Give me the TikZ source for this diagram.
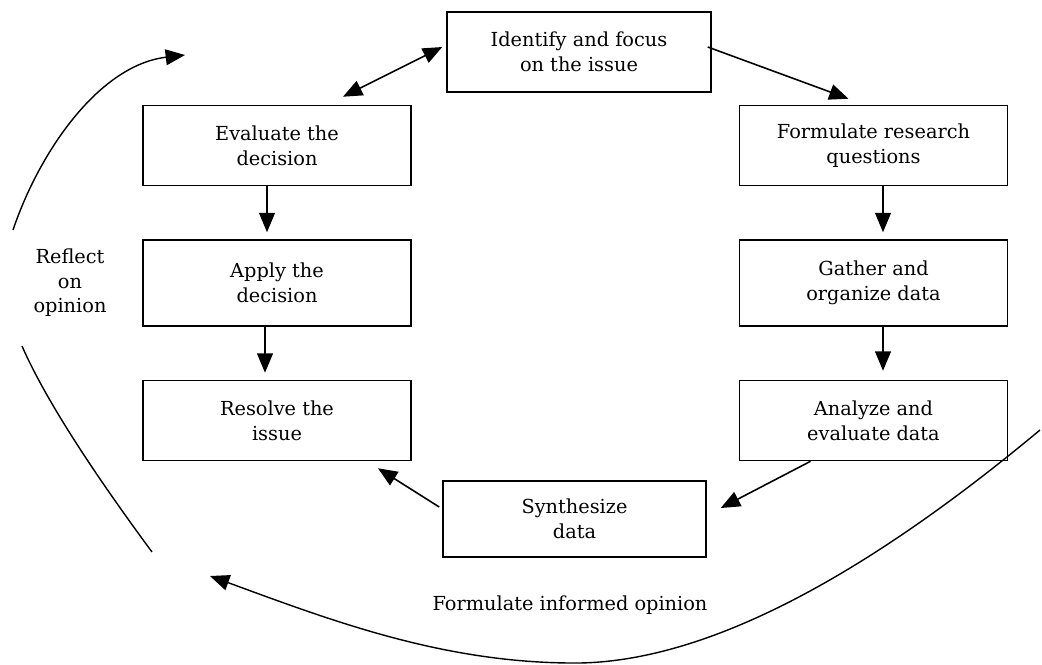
\documentclass[tikz,border=0pt]{standalone}
\usepackage{fontspec}
\setmainfont{DejaVu Serif}
\usetikzlibrary{arrows.meta, positioning}

\begin{document}
\begin{tikzpicture}[
  x=0.02cm, y=-0.02cm,
  every node/.style={font=\fontsize{11}{14}\selectfont},
  stepbox/.style={rectangle, draw=black, line width=0.9pt, minimum width=5.36cm, minimum height=1.6cm, align=center, inner sep=2pt},
  flow/.style={-{Triangle[length=11pt,width=9pt]}, line width=0.9pt},
  twoway/.style={{Triangle[length=11pt,width=9pt]}-{Triangle[length=11pt,width=9pt]}, line width=0.9pt},
  cycleline/.style={line width=0.8pt},
]
\useasboundingbox (0,0) rectangle (1042,664);

% Top box
\node[stepbox, minimum width=5.28cm] (ident) at (579,52) {Identify and focus\\on the issue};

% Left column: acting on the decision
\node[stepbox] (evaldec) at (277,145.5) {Evaluate the\\decision};
\node[stepbox, minimum height=1.72cm] (apply) at (277,283) {Apply the\\decision};
\node[stepbox] (resolve) at (277,420.5) {Resolve the\\issue};

% Right column: research
\node[stepbox] (formq) at (873.5,145.5) {Formulate research\\questions};
\node[stepbox, minimum height=1.72cm] (gather) at (873.5,283) {Gather and\\organize data};
\node[stepbox] (analyze) at (873.5,420.5) {Analyze and\\evaluate data};

% Bottom box
\node[stepbox, minimum width=5.26cm, minimum height=1.52cm] (synth) at (574.5,519) {Synthesize\\data};

% Arrows between boxes
\draw[twoway] ([xshift=-0.08cm,yshift=0.1cm]ident.west) -- ([xshift=1.32cm,yshift=0.16cm]evaldec.north);
\draw[flow] ([xshift=-0.08cm,yshift=0.1cm]ident.east) -- ([xshift=-0.5cm,yshift=0.12cm]formq.north);
\draw[flow] ([xshift=-0.2cm]evaldec.south) -- ([xshift=-0.2cm,yshift=0.14cm]apply.north);
\draw[flow] ([xshift=-0.24cm]apply.south) -- ([xshift=-0.24cm,yshift=0.14cm]resolve.north);
\draw[flow] ([xshift=0.19cm]formq.south) -- ([xshift=0.19cm,yshift=0.14cm]gather.north);
\draw[flow] ([xshift=0.19cm]gather.south) -- ([xshift=0.19cm,yshift=0.18cm]analyze.north);
\draw[flow] ([xshift=-1.26cm]analyze.south) -- ([xshift=0.28cm,yshift=0.22cm]synth.east);
\draw[flow] ([xshift=-0.06cm,yshift=0.24cm]synth.west) -- ([xshift=2.02cm,yshift=-0.14cm]resolve.south);

% Outer cycle: reflect on opinion
\node[align=center] (reflect) at (70,283) {Reflect\\on\\opinion};
\coordinate (reflTop) at (185,55);
\coordinate (reflA) at (13,230);
\coordinate (reflB) at (22,346);
\coordinate (reflC) at (152,552);
\draw[cycleline, -{Triangle[length=11pt,width=9pt]}] (reflA) .. controls (40,150) and (100,65) .. (reflTop);
\draw[cycleline] (reflB) .. controls (50,410) and (110,495) .. (reflC);

% Outer cycle: formulate informed opinion
\node (informed) at (570,605) {Formulate informed opinion};
\coordinate (infStart) at (1040,430);
\coordinate (infLow) at (570,663);
\coordinate (infEnd) at (210,576);
\draw[cycleline, -{Triangle[length=11pt,width=9pt]}] (infStart) .. controls (860,580) and (700,665) .. (infLow)
  .. controls (440,662) and (330,620) .. (infEnd);

\end{tikzpicture}
\end{document}
